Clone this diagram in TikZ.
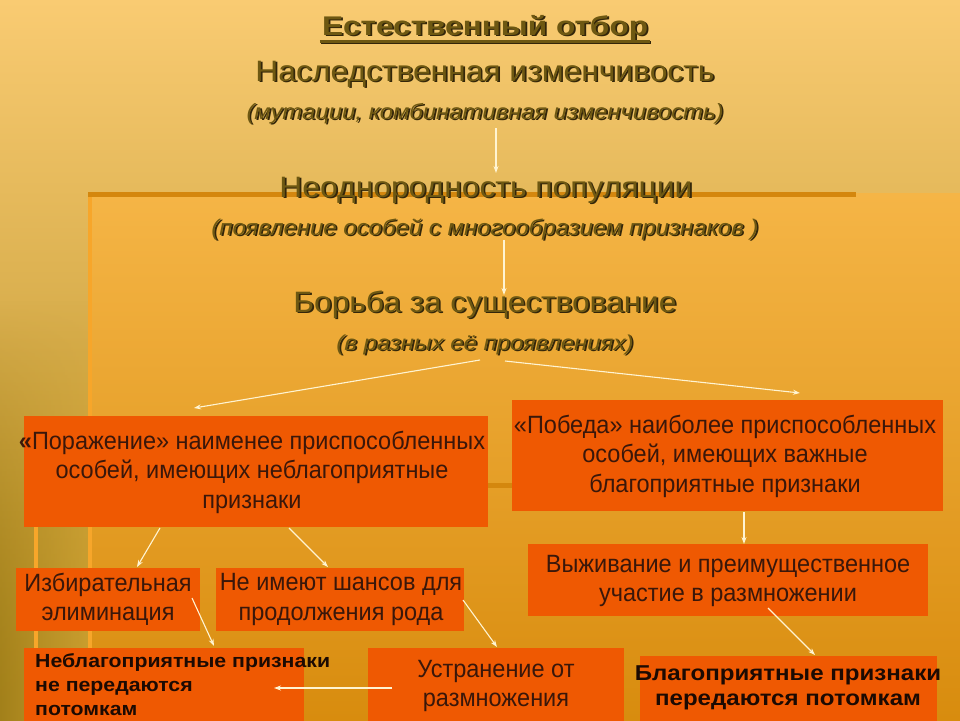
\documentclass[tikz,border=0pt]{standalone}
\usepackage{fontspec}
\usepackage{graphicx}
\setmainfont{Liberation Sans}
\newfontfamily\boxfont{Liberation Sans}[FakeStretch=0.94]
\newfontfamily\bbfont{Liberation Sans}[FakeStretch=1.12]
\usetikzlibrary{arrows.meta,calc,fadings}
\definecolor{bgtop}{HTML}{F9CB72}
\definecolor{bgmid}{HTML}{EEBC58}
\definecolor{bgbot}{HTML}{B08A1E}
\definecolor{bgdark}{HTML}{A2801A}
\definecolor{bgside}{HTML}{CDA030}
\definecolor{intop}{HTML}{F5B546}
\definecolor{inmid}{HTML}{E8A62C}
\definecolor{inbot}{HTML}{D88C0E}
\definecolor{barc}{HTML}{D4870E}
\definecolor{vlinec}{HTML}{F7A62A}
\definecolor{boxc}{HTML}{EF5902}
\definecolor{boxtxt}{HTML}{3A170A}
\definecolor{boldtxt}{HTML}{1C0A02}
\definecolor{headc}{HTML}{6E5812}
\definecolor{hshadow}{HTML}{33260A}
\definecolor{arrc}{HTML}{FFF4D2}
\newcommand\shtext[1]{\rlap{\kern1.5pt\raisebox{-1.5pt}{\textcolor{hshadow}{#1}}}#1}
\newcommand\hd[4]{\resizebox{#1}{\height}{\fontsize{#2}{#2}\selectfont#3\shtext{#4}}}
\tikzset{
  htext/.style={anchor=base, inner sep=0pt, text=headc},
  box/.style={fill=boxc, draw=none, inner sep=0pt, outer sep=0pt},
  btext/.style={font=\boxfont\fontsize{25}{29.5}\selectfont, text=boxtxt, align=center, inner sep=0pt},
  bbtext/.style={font=\bbfont\bfseries\fontsize{19}{24}\selectfont, text=boldtxt, inner sep=0pt},
  arr/.style={draw=arrc, line width=1.1pt, -{Stealth[length=7pt,width=5pt]}}
}
\begin{document}
\begin{tikzpicture}[x=1pt,y=-1pt]
\useasboundingbox (0,0) rectangle (960,720);
% background
\shade[top color=bgtop, middle color=bgmid, bottom color=bgbot] (0,0) rectangle (960,720);
\shade[left color=bgdark, right color=bgside, path fading=north] (0,300) rectangle (88,720);
\shade[top color=intop, middle color=inmid, bottom color=inbot] (88,193) rectangle (960,720);
\fill[barc] (88,192) rectangle (856,197);
\fill[vlinec] (88,197) rectangle (92,720);
\fill[vlinec] (34,485) rectangle (38,720);
\fill[barc] (30,483) rectangle (520,488);
% headings
\node[htext] (title) at (485,35) {\hd{326pt}{27}{\bfseries}{Естественный отбор}};
\draw[hshadow, line width=3pt] ($(title.base west)+(-1,7.5)$) -- ($(title.base east)+(3,7.5)$);
\draw[headc, line width=3pt] ($(title.base west)+(-2,6)$) -- ($(title.base east)+(2,6)$);
\node[htext] (nasl) at (485,81) {\hd{459pt}{29.5}{}{Наследственная изменчивость}};
\node[htext] (mut) at (485,119) {\hd{477pt}{22}{\itshape}{(мутации, комбинативная изменчивость)}};
\node[htext] (neod) at (486,197) {\hd{413pt}{29.5}{}{Неоднородность популяции}};
\node[htext] (pojav) at (485,235) {\hd{547pt}{22.5}{\itshape}{(появление особей с многообразием признаков )}};
\node[htext] (borba) at (485,312) {\hd{383pt}{29.5}{}{Борьба за существование}};
\node[htext] (vraz) at (485,350) {\hd{297pt}{21.5}{\itshape}{(в разных её проявлениях)}};
% boxes
\node[box, minimum width=464pt, minimum height=111pt] (lose) at (256,471.5) {};
\node[btext] (losetxt) at (252,472) {{\bfseries«}Поражение» наименее приспособленных\\особей, имеющих неблагоприятные\\признаки};
\node[box, minimum width=431pt, minimum height=111pt] (win) at (727.5,455.5) {};
\node[btext] (wintxt) at (725,456) {«Победа» наиболее приспособленных\\особей, имеющих важные\\благоприятные признаки};
\node[box, minimum width=184pt, minimum height=63pt] (elim) at (108,599.5) {};
\node[btext] (elimtxt) at (108,599.5) {Избирательная\\элиминация};
\node[box, minimum width=248pt, minimum height=63pt] (nochance) at (340,599.5) {};
\node[btext] (nochancetxt) at (341,599.5) {Не имеют шансов для\\продолжения рода};
\node[box, minimum width=400pt, minimum height=72pt] (surv) at (728,580) {};
\node[btext] (survtxt) at (728,581) {Выживание и преимущественное\\участие в размножении};
\node[box, minimum width=280pt, minimum height=80pt] (unfav) at (164,688) {};
\node[bbtext, align=left, anchor=north west] (unfavtxt) at ($(unfav.north west)+(11,5)$) {Неблагоприятные признаки\\не передаются\\потомкам};
\node[box, minimum width=256pt, minimum height=80pt] (remove) at (496,688) {};
\node[btext] (removetxt) at (496,686) {Устранение от\\размножения};
\node[box, minimum width=297pt, minimum height=72pt] (fav) at (788.5,692) {};
\node[bbtext, align=center, font=\bbfont\bfseries\fontsize{21.5}{24.5}\selectfont] (favtxt) at (788,688) {Благоприятные признаки\\передаются потомкам};
% arrows
\draw[arr] ($(mut.base)+(11,9)$) -- ($(neod.base)+(10,-24)$);
\draw[arr] ($(pojav.base)+(19,5)$) -- ($(borba.base)+(19,-17)$);
\draw[arr] ($(vraz.base)+(-5,10)$) -- ($(lose.north)+(-62,-8)$);
\draw[arr] ($(vraz.base)+(20,11)$) -- ($(win.north)+(72.5,-7)$);
\draw[arr] ($(win.south)+(16.5,1)$) -- ($(surv.north)+(16,0)$);
\draw[arr] ($(lose.south)+(-96,1)$) -- ($(elim.north)+(29,-1)$);
\draw[arr] ($(lose.south)+(33,1)$) -- ($(nochance.north)+(-12,-1)$);
\draw[arr] ($(elim.east)+(-8,-1.5)$) -- ($(unfav.north)+(50,-2)$);
\draw[arr] ($(nochance.east)+(-1,0.5)$) -- ($(remove.north)+(1,-1)$);
\draw[arr] ($(remove.west)+(24,0)$) -- ($(unfav.east)+(-30,0)$);
\draw[arr] ($(surv.south)+(40,-8)$) -- ($(fav.north)+(26.5,-1)$);
\end{tikzpicture}
\end{document}
